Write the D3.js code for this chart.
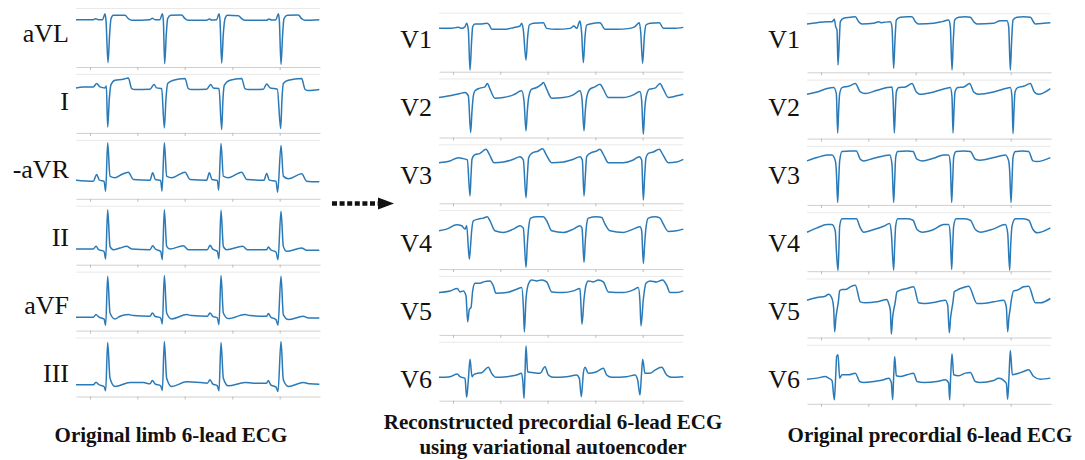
<!DOCTYPE html>
<html>
<head>
<meta charset="utf-8">
<script src="https://cdn.jsdelivr.net/npm/d3@7.9.0/dist/d3.min.js"></script>
<style>
  html, body { margin: 0; padding: 0; background: #fff; }
  svg { display: block; }
  .lead-label { font-family: "Liberation Serif", "Times New Roman", "DejaVu Serif", serif; font-size: 26px; fill: #111; }
  .caption { font-family: "Liberation Serif", "Times New Roman", "DejaVu Serif", serif; font-size: 21px; font-weight: bold; fill: #111; }
  .axis path { stroke: #cfcfcf; }
  .axis line { stroke: #bdbdbd; }
</style>
</head>
<body>
<div id="chart"></div>
<script>
// x: samples across the strip (0..732), v: amplitude in strip units (0..177)
const limbLeads = ["aVL", "I", "-aVR", "II", "aVF", "III"];
const precordialLeads = ["V1", "V2", "V3", "V4", "V5", "V6"];
const tickSamples = [42, 184, 326, 469, 611];

const aVL = [[0,142],[52,142],[59,145],[67,142],[80,142],[87,160],[90,140],[96,13],[101,100],[105,145],[112,155],[147,155],[157,145],[167,140],[222,142],[229,146],[237,142],[252,142],[259,160],[262,140],[266,10],[271,100],[275,145],[284,155],[317,156],[327,145],[337,140],[392,140],[400,144],[407,141],[422,142],[429,160],[432,140],[437,12],[442,100],[447,145],[454,155],[487,154],[497,145],[507,140],[572,140],[579,144],[587,141],[600,142],[607,160],[610,140],[615,8],[620,100],[624,145],[634,155],[667,156],[677,145],[687,140],[730,142]];
const leadI = [[0,135],[22,138],[52,138],[62,148],[72,138],[87,135],[91,141],[95,18],[100,103],[105,145],[117,158],[142,161],[157,165],[167,133],[177,130],[222,131],[234,145],[242,135],[257,133],[265,15],[270,103],[275,148],[292,158],[327,163],[337,133],[347,130],[392,131],[404,145],[412,135],[429,133],[437,10],[441,103],[445,143],[462,158],[497,163],[507,133],[517,130],[562,131],[572,147],[582,135],[604,131],[614,13],[618,103],[622,148],[637,158],[677,163],[687,131],[697,127],[730,130]];
const negAVR = [[0,56],[52,53],[62,73],[70,56],[84,53],[89,23],[95,168],[102,68],[117,63],[137,73],[157,80],[172,58],[222,56],[230,78],[238,58],[254,55],[258,23],[265,168],[272,68],[287,63],[327,80],[342,58],[392,56],[400,78],[408,58],[424,55],[428,26],[435,166],[442,68],[457,63],[497,80],[512,58],[564,56],[572,76],[580,56],[600,53],[605,20],[615,160],[622,68],[637,60],[677,75],[692,53],[730,51]];
const leadII = [[0,47],[52,47],[60,55],[68,45],[84,40],[89,17],[95,165],[102,55],[112,45],[132,50],[152,55],[167,47],[222,45],[230,57],[238,47],[254,40],[259,15],[265,165],[272,55],[282,47],[322,57],[337,45],[394,45],[402,58],[410,47],[424,40],[429,18],[435,163],[442,55],[452,45],[500,55],[514,45],[572,45],[577,53],[584,45],[600,38],[606,15],[615,160],[622,55],[632,40],[677,50],[692,43],[730,43]];
const aVF = [[0,40],[52,40],[60,48],[68,41],[84,35],[89,16],[95,163],[102,53],[117,35],[132,43],[157,48],[172,45],[222,43],[229,53],[237,43],[254,38],[259,20],[265,165],[272,53],[287,35],[332,48],[347,45],[394,43],[402,53],[410,43],[424,38],[429,18],[435,165],[442,53],[457,36],[507,48],[522,45],[572,43],[577,51],[584,41],[600,33],[606,16],[615,163],[622,48],[637,33],[682,43],[697,38],[730,38]];
const leadIII = [[0,35],[52,35],[60,43],[68,36],[84,30],[89,17],[95,162],[102,55],[117,30],[162,42],[202,42],[222,38],[229,48],[237,38],[254,32],[259,18],[265,165],[272,55],[287,30],[332,44],[372,42],[394,40],[402,50],[410,38],[424,32],[429,17],[435,162],[442,55],[457,32],[507,42],[532,40],[572,40],[577,48],[584,35],[600,28],[606,15],[615,165],[622,50],[637,30],[682,42],[702,38],[730,37]];

const recV1 = [[0,130],[33,130],[58,133],[68,130],[78,135],[83,145],[88,125],[93,5],[98,95],[101,135],[108,143],[123,143],[143,145],[151,140],[158,127],[193,127],[223,132],[243,137],[248,145],[253,125],[261,35],[266,105],[271,140],[283,145],[313,147],[323,130],[353,127],[393,130],[405,137],[413,130],[423,152],[428,115],[433,27],[438,105],[443,140],[453,143],[483,147],[498,127],[533,127],[573,130],[588,135],[601,147],[605,120],[611,25],[616,105],[621,140],[633,145],[661,147],[673,130],[703,130],[733,133]];
const recV2 = [[0,120],[33,125],[63,132],[78,135],[88,125],[95,15],[99,80],[103,125],[108,140],[123,148],[138,152],[145,162],[153,145],[168,118],[193,120],[223,128],[248,140],[255,110],[261,20],[265,80],[269,120],[278,145],[293,150],[308,160],[313,165],[323,145],[338,118],[373,120],[403,128],[423,140],[429,115],[435,20],[439,80],[443,120],[453,145],[468,152],[483,160],[493,145],[508,120],[553,120],[583,128],[603,138],[608,110],[613,10],[617,80],[621,120],[631,145],[648,148],[663,162],[673,145],[688,120],[713,125],[733,130]];
const recV3 = [[0,122],[33,127],[58,137],[73,134],[85,130],[93,22],[96,82],[99,132],[105,144],[123,150],[141,162],[151,147],[165,122],[193,124],[223,132],[243,140],[253,130],[261,17],[265,82],[269,137],[278,150],[298,157],[311,164],[321,147],[338,122],[373,124],[403,132],[423,140],[430,130],[435,22],[439,82],[443,140],[453,150],[473,157],[483,162],[493,147],[508,122],[553,122],[583,130],[601,140],[608,130],[613,10],[617,82],[621,137],[628,150],[643,154],[661,162],[671,147],[688,122],[713,124],[733,132]];
const recV4 = [[0,115],[23,120],[53,133],[68,130],[78,120],[83,130],[91,30],[95,75],[98,115],[103,145],[118,150],[133,153],[145,157],[153,145],[168,115],[193,110],[223,120],[243,130],[253,123],[261,5],[265,75],[269,125],[275,153],[293,157],[313,157],[323,145],[338,115],[373,110],[403,120],[423,130],[429,123],[435,20],[439,85],[443,135],[448,153],[473,157],[488,155],[498,135],[513,115],[553,110],[583,120],[603,127],[608,115],[613,17],[617,75],[621,125],[628,153],[648,157],[663,153],[673,135],[688,113],[713,115],[733,120]];
const recV5 = [[0,127],[33,132],[55,139],[63,129],[73,132],[81,117],[86,39],[91,77],[96,82],[101,132],[108,155],[123,155],[133,159],[153,162],[163,147],[171,125],[203,127],[233,137],[248,142],[253,87],[256,9],[261,107],[268,152],[278,165],[293,162],[308,165],[323,159],[338,129],[373,127],[403,132],[423,139],[426,87],[429,32],[435,107],[441,149],[448,162],[463,159],[478,165],[493,159],[508,129],[553,127],[583,135],[598,142],[603,97],[606,27],[613,107],[621,155],[633,162],[653,159],[671,165],[683,149],[693,127],[713,127],[733,132]];
const recV6 = [[0,70],[33,72],[55,80],[63,72],[78,67],[83,10],[88,62],[93,124],[99,72],[103,77],[113,82],[128,84],[148,100],[158,82],[171,70],[203,72],[233,77],[248,82],[252,52],[255,7],[258,82],[261,164],[266,87],[283,84],[303,82],[318,102],[328,77],[343,70],[383,72],[413,77],[421,67],[427,12],[433,82],[438,100],[448,82],[473,87],[493,97],[503,77],[518,70],[563,72],[588,77],[596,62],[603,17],[607,72],[611,124],[618,82],[633,82],[648,92],[668,100],[683,77],[698,70],[733,72]];

const origV1 = [[0,145],[30,149],[60,152],[75,152],[82,159],[86,137],[90,127],[93,22],[97,97],[100,152],[110,162],[130,165],[145,167],[155,152],[165,145],[200,147],[215,152],[222,149],[250,152],[255,135],[260,12],[264,97],[268,157],[280,165],[300,167],[315,167],[325,152],[335,145],[380,147],[405,152],[425,157],[430,137],[435,7],[439,97],[443,157],[455,165],[475,167],[490,165],[500,152],[510,145],[560,147],[580,155],[600,155],[605,137],[610,7],[614,97],[618,157],[630,165],[650,167],[670,165],[685,145],[710,147],[730,149]];
const origV2 = [[0,133],[30,140],[60,150],[80,153],[88,135],[92,17],[95,85],[98,135],[105,153],[125,157],[145,165],[160,140],[175,135],[210,145],[240,153],[255,155],[258,125],[262,17],[265,85],[268,140],[275,153],[295,155],[315,165],[328,140],[340,133],[380,140],[415,150],[430,153],[435,125],[438,17],[441,85],[444,140],[452,153],[470,155],[488,165],[500,140],[515,133],[560,140],[595,150],[610,153],[615,125],[618,15],[621,85],[624,140],[632,153],[650,157],[670,165],[682,140],[695,133],[730,150]];
const origV3 = [[0,132],[30,142],[60,150],[75,150],[85,132],[88,102],[92,7],[95,72],[98,132],[105,160],[130,162],[148,162],[160,137],[170,132],[200,140],[230,147],[248,150],[255,122],[260,7],[263,72],[266,142],[272,160],[300,162],[318,160],[330,137],[345,132],[380,140],[410,150],[425,150],[430,122],[434,7],[437,72],[440,142],[447,160],[470,162],[490,160],[505,137],[520,134],[560,142],[595,150],[605,132],[608,102],[612,7],[615,72],[618,142],[625,160],[645,162],[665,160],[678,132],[690,130],[730,142]];
const origV4 = [[0,117],[30,130],[60,140],[75,140],[85,120],[88,65],[93,2],[96,75],[98,135],[105,157],[130,157],[148,157],[160,130],[170,117],[200,125],[230,135],[248,143],[253,115],[260,3],[263,75],[266,135],[272,157],[300,157],[318,153],[330,125],[345,117],[380,125],[410,140],[425,140],[430,105],[434,5],[437,75],[440,135],[447,157],[470,157],[490,153],[505,125],[520,117],[560,127],[595,140],[602,115],[608,3],[611,75],[615,135],[625,157],[645,157],[665,153],[678,125],[690,115],[730,130]];
const origV5 = [[0,112],[30,120],[55,124],[65,130],[75,117],[80,87],[83,17],[87,62],[90,82],[94,107],[98,140],[105,144],[115,144],[130,152],[145,157],[160,107],[175,104],[210,107],[240,114],[245,102],[250,82],[253,10],[257,62],[260,82],[264,102],[270,137],[280,142],[300,147],[320,152],[335,104],[350,102],[390,107],[415,112],[422,97],[427,14],[431,62],[434,82],[438,107],[442,137],[450,142],[470,150],[485,154],[510,102],[525,102],[560,107],[590,112],[598,92],[602,17],[606,62],[609,82],[613,112],[620,140],[630,142],[650,152],[665,154],[685,104],[700,104],[730,117]];
const origV6 = [[0,74],[30,77],[55,82],[65,77],[75,70],[82,12],[86,82],[89,142],[93,147],[98,77],[105,87],[125,87],[145,92],[158,67],[170,64],[200,67],[230,72],[245,77],[253,64],[257,12],[260,82],[263,142],[268,84],[280,82],[300,87],[320,92],[330,67],[350,64],[390,67],[415,72],[425,62],[428,12],[431,82],[435,150],[440,87],[455,84],[475,92],[490,94],[505,67],[520,64],[560,70],[575,77],[598,62],[602,14],[606,82],[610,160],[616,87],[630,90],[650,97],[665,102],[680,82],[700,74],[730,77]];

const captionLeft = ["Original limb 6-lead ECG"];
const captionMiddle = ["Reconstructed precordial 6-lead ECG", "using variational autoencoder"];
const captionRight = ["Original precordial 6-lead ECG"];

const width = 1085;
const height = 460;
const stripWidth = 244;
const stripHeight = 59;

const columns = [
  { leads: limbLeads, traces: [aVL, leadI, negAVR, leadII, aVF, leadIII],
    left: 76, bottom0: 67, pitch: 65.9, labelX: 69, labelY0: 42 },
  { leads: precordialLeads, traces: [recV1, recV2, recV3, recV4, recV5, recV6],
    left: 439, bottom0: 71.7, pitch: 65.8, labelX: 432, labelY0: 48 },
  { leads: precordialLeads, traces: [origV1, origV2, origV3, origV4, origV5, origV6],
    left: 807, bottom0: 72.3, pitch: 66.3, labelX: 800, labelY0: 48 },
];

const svg = d3.select("#chart")
  .append("svg")
  .attr("width", width)
  .attr("height", height)
  .attr("viewBox", `0 0 ${width} ${height}`);

const xScale = d3.scaleLinear().domain([0, 732]).range([0, stripWidth]);
const yScale = d3.scaleLinear().domain([0, 177]).range([stripHeight, 0]);

const line = d3.line()
  .x((d) => xScale(d[0]))
  .y((d) => yScale(d[1]))
  .curve(d3.curveMonotoneX);

for (const col of columns) {
  col.leads.forEach((lead, i) => {
    const bottom = col.bottom0 + i * col.pitch;
    const g = svg.append("g")
      .attr("transform", `translate(${col.left}, ${bottom - stripHeight})`);

    // light top border
    g.append("line")
      .attr("x1", 0)
      .attr("x2", stripWidth)
      .attr("y1", 0.5)
      .attr("y2", 0.5)
      .attr("stroke", "#e9e9e9")
      .attr("stroke-width", 1);

    g.append("g")
      .attr("class", "axis")
      .attr("transform", `translate(0, ${stripHeight})`)
      .call(d3.axisBottom(xScale).tickValues(tickSamples).tickFormat("").tickSize(3).tickSizeOuter(0));

    g.append("path")
      .datum(col.traces[i])
      .attr("fill", "none")
      .attr("stroke", "#2a7ab8")
      .attr("stroke-width", 1.5)
      .attr("stroke-linejoin", "round")
      .attr("d", line);

    svg.append("text")
      .attr("class", "lead-label")
      .attr("x", col.labelX)
      .attr("y", col.labelY0 + i * 68)
      .attr("text-anchor", "end")
      .text(lead);
  });
}

// dotted arrow between limb and reconstructed columns
svg.append("line")
  .attr("x1", 332)
  .attr("x2", 379)
  .attr("y1", 203.5)
  .attr("y2", 203.5)
  .attr("stroke", "#111")
  .attr("stroke-width", 4.5)
  .attr("stroke-dasharray", "5,2.6");
svg.append("path")
  .attr("d", "M378,197.5 L394,203.5 L378,209.5 Z")
  .attr("fill", "#111");

function drawCaption(lines, cx, y0) {
  const t = svg.append("text")
    .attr("class", "caption")
    .attr("text-anchor", "middle");
  lines.forEach((s, i) => {
    t.append("tspan").attr("x", cx).attr("y", y0 + i * 25).text(s);
  });
}

drawCaption(captionLeft, 171, 442);
drawCaption(captionMiddle, 553, 429);
drawCaption(captionRight, 930, 442);
</script>
</body>
</html>
